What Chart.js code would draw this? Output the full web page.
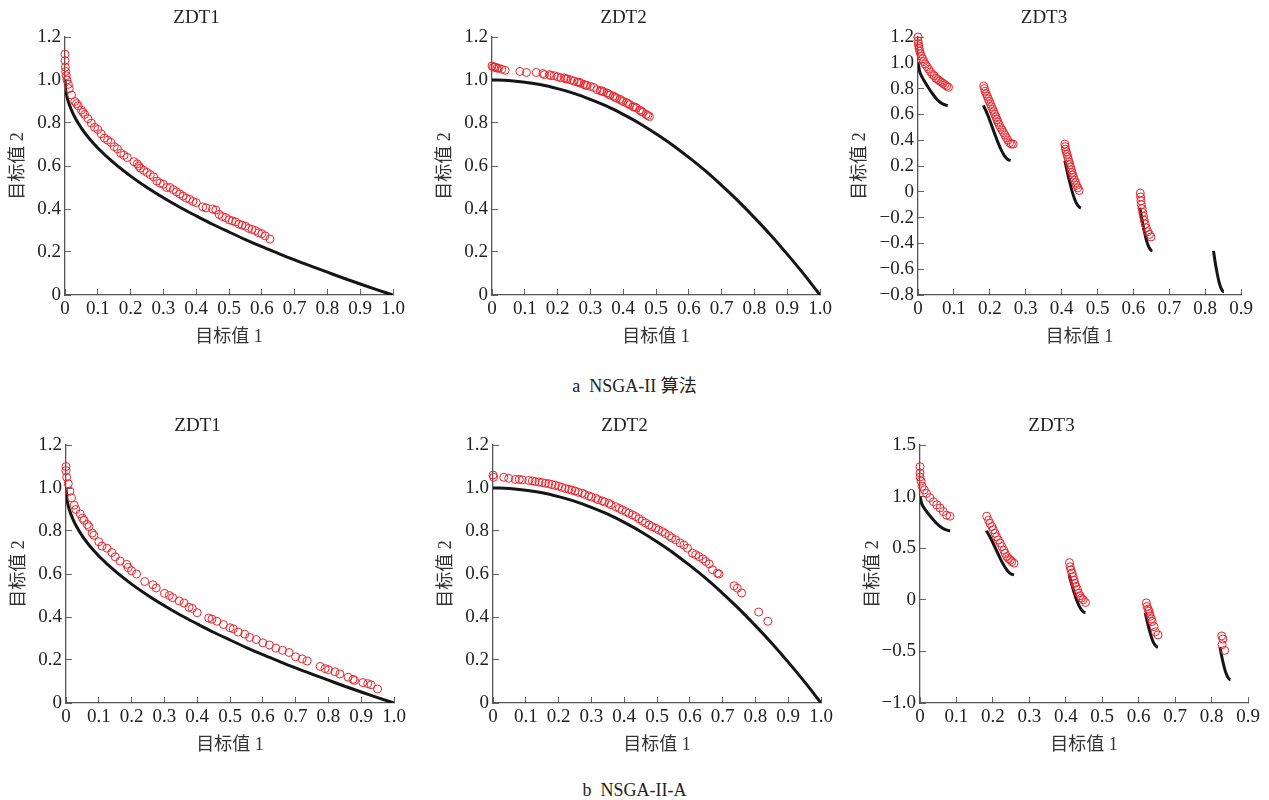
<!DOCTYPE html>
<html>
<head>
<meta charset="utf-8">
<script src="https://cdn.jsdelivr.net/npm/chart.js@4/dist/chart.umd.min.js"></script>
<style>
  body { margin: 0; background: #fff; }
  #page { position: relative; width: 1269px; height: 800px; background: #fff; overflow: hidden; }
  .box { position: absolute; width: 420px; height: 360px; }
  .caption { position: absolute; left: 0; width: 1269px; text-align: center; white-space: pre;
             font-family: 'Liberation Serif', 'Noto Sans CJK SC', serif; font-size: 18px; color: #222; }
</style>
</head>
<body>
<div id="page">
  <div class="box" style="left:0px;top:0px"><canvas id="c1" width="420" height="360"></canvas></div>
  <div class="box" style="left:427px;top:0px"><canvas id="c2" width="420" height="360"></canvas></div>
  <div class="box" style="left:842px;top:0px"><canvas id="c3" width="420" height="360"></canvas></div>
  <div class="box" style="left:1px;top:408px"><canvas id="c4" width="420" height="360"></canvas></div>
  <div class="box" style="left:428px;top:408px"><canvas id="c5" width="420" height="360"></canvas></div>
  <div class="box" style="left:855px;top:408px"><canvas id="c6" width="420" height="360"></canvas></div>
  <div class="caption" style="top:371px">a  NSGA-II 算法</div>
  <div class="caption" style="top:780px">b  NSGA-II-A</div>
</div>
<script>
// tick values
const xTicks10 = [0, 0.1, 0.2, 0.3, 0.4, 0.5, 0.6, 0.7, 0.8, 0.9, 1.0];
const xTicks09 = [0, 0.1, 0.2, 0.3, 0.4, 0.5, 0.6, 0.7, 0.8, 0.9];
const yTicks12 = [0, 0.2, 0.4, 0.6, 0.8, 1.0, 1.2];
const yTicksZdt3a = [-0.8, -0.6, -0.4, -0.2, 0, 0.2, 0.4, 0.6, 0.8, 1.0, 1.2];
const yTicksZdt3b = [-1.0, -0.5, 0, 0.5, 1.0, 1.5];

// true Pareto fronts
const zdt1Front = [[0,1.0],[0.002,0.955],[0.005,0.929],[0.01,0.9],[0.02,0.859],[0.03,0.827],[0.05,0.776],[0.07,0.735],[0.1,0.684],[0.15,0.613],[0.2,0.553],[0.25,0.5],[0.3,0.452],[0.35,0.408],[0.4,0.368],[0.45,0.329],[0.5,0.293],[0.55,0.258],[0.6,0.225],[0.65,0.194],[0.7,0.163],[0.75,0.134],[0.8,0.106],[0.85,0.078],[0.9,0.051],[0.95,0.025],[1.0,0]];
const zdt2Front = [[0,1],[0.05,0.998],[0.1,0.99],[0.15,0.978],[0.2,0.96],[0.25,0.938],[0.3,0.91],[0.35,0.878],[0.4,0.84],[0.45,0.798],[0.5,0.75],[0.55,0.698],[0.6,0.64],[0.65,0.578],[0.7,0.51],[0.75,0.438],[0.8,0.36],[0.85,0.278],[0.9,0.19],[0.95,0.098],[1,0]];
const zdt3Front = [
  [[0,1],[0.005,0.929],[0.01,0.897],[0.02,0.847],[0.03,0.803],[0.04,0.762],[0.05,0.726],[0.06,0.698],[0.07,0.679],[0.08,0.67],[0.083,0.669]],
  [[0.182,0.67],[0.19,0.623],[0.2,0.553],[0.21,0.477],[0.22,0.402],[0.23,0.334],[0.24,0.282],[0.25,0.25],[0.258,0.242]],
  [[0.409,0.242],[0.42,0.105],[0.43,-0.004],[0.44,-0.082],[0.45,-0.121],[0.454,-0.124]],
  [[0.618,-0.124],[0.625,-0.233],[0.63,-0.303],[0.64,-0.409],[0.65,-0.456],[0.653,-0.458]],
  [[0.823,-0.458],[0.83,-0.583],[0.84,-0.715],[0.85,-0.772],[0.852,-0.773]]
];

// a: NSGA-II solutions
const nsgaZdt1 = [[0,1.12],[0,1.09],[0.001,1.06],[0.002,1.04],[0.004,1.02],[0.006,1.0],[0.01,0.98],[0.013,0.96],[0.02,0.93],[0.03,0.9],[0.035,0.89],[0.04,0.88],[0.05,0.86],[0.055,0.85],[0.06,0.84],[0.07,0.82],[0.08,0.8],[0.09,0.78],[0.1,0.77],[0.11,0.75],[0.12,0.73],[0.13,0.72],[0.14,0.71],[0.15,0.69],[0.16,0.68],[0.17,0.66],[0.18,0.65],[0.19,0.64],[0.21,0.62],[0.22,0.61],[0.225,0.6],[0.23,0.59],[0.24,0.58],[0.25,0.57],[0.26,0.56],[0.27,0.55],[0.28,0.53],[0.29,0.52],[0.3,0.515],[0.31,0.5],[0.32,0.5],[0.33,0.49],[0.34,0.48],[0.35,0.47],[0.36,0.46],[0.37,0.45],[0.38,0.445],[0.39,0.435],[0.4,0.43],[0.42,0.41],[0.43,0.405],[0.45,0.4],[0.46,0.395],[0.47,0.375],[0.48,0.365],[0.49,0.36],[0.5,0.35],[0.51,0.345],[0.52,0.34],[0.53,0.33],[0.54,0.325],[0.55,0.32],[0.56,0.31],[0.57,0.305],[0.58,0.3],[0.59,0.29],[0.6,0.285],[0.61,0.275],[0.625,0.26]];
const nsgaZdt2 = [[0,1.065],[0.005,1.06],[0.01,1.06],[0.015,1.055],[0.02,1.055],[0.03,1.05],[0.04,1.045],[0.085,1.04],[0.105,1.035],[0.135,1.035],[0.155,1.03],[0.16,1.025],[0.175,1.025],[0.18,1.02],[0.19,1.02],[0.2,1.015],[0.21,1.01],[0.22,1.01],[0.225,1.005],[0.23,1.005],[0.24,1.0],[0.25,0.995],[0.26,0.99],[0.265,0.99],[0.27,0.985],[0.28,0.98],[0.285,0.975],[0.29,0.975],[0.3,0.97],[0.31,0.965],[0.32,0.955],[0.33,0.95],[0.335,0.95],[0.34,0.945],[0.35,0.94],[0.355,0.935],[0.36,0.93],[0.37,0.925],[0.375,0.92],[0.38,0.915],[0.39,0.91],[0.395,0.905],[0.4,0.9],[0.41,0.895],[0.415,0.89],[0.42,0.885],[0.43,0.875],[0.435,0.875],[0.44,0.87],[0.45,0.86],[0.455,0.855],[0.46,0.85],[0.47,0.84],[0.475,0.835],[0.48,0.83]];
const nsgaZdt3 = [
  [0,1.2],[0,1.17],[0.001,1.15],[0.002,1.13],[0.003,1.11],[0.005,1.09],[0.007,1.07],[0.01,1.05],[0.013,1.03],[0.016,1.01],[0.02,0.99],[0.025,0.97],[0.03,0.95],[0.035,0.93],[0.04,0.91],[0.045,0.9],[0.05,0.88],[0.055,0.87],[0.06,0.86],[0.065,0.85],[0.07,0.84],[0.075,0.83],[0.08,0.82],[0.085,0.81],
  [0.183,0.82],[0.185,0.8],[0.187,0.78],[0.19,0.76],[0.193,0.74],[0.196,0.72],[0.199,0.7],[0.202,0.68],[0.205,0.66],[0.208,0.64],[0.211,0.62],[0.214,0.6],[0.217,0.58],[0.22,0.56],[0.223,0.54],[0.226,0.52],[0.23,0.5],[0.234,0.48],[0.238,0.46],[0.242,0.44],[0.246,0.42],[0.25,0.4],[0.255,0.38],[0.26,0.37],[0.265,0.37],
  [0.409,0.37],[0.41,0.35],[0.411,0.33],[0.413,0.31],[0.415,0.29],[0.417,0.27],[0.419,0.25],[0.421,0.23],[0.423,0.21],[0.425,0.19],[0.427,0.17],[0.429,0.15],[0.431,0.13],[0.433,0.11],[0.436,0.09],[0.439,0.07],[0.442,0.05],[0.445,0.03],[0.449,0.01],
  [0.619,-0.01],[0.62,-0.04],[0.621,-0.07],[0.622,-0.1],[0.624,-0.13],[0.626,-0.16],[0.628,-0.19],[0.63,-0.22],[0.633,-0.25],[0.636,-0.28],[0.64,-0.31],[0.645,-0.33],[0.649,-0.35]
];

// b: NSGA-II-A solutions
const nsgaAZdt1 = [[0,1.1],[0,1.08],[0.002,1.05],[0.007,1.02],[0.012,0.985],[0.017,0.955],[0.025,0.92],[0.03,0.9],[0.043,0.88],[0.05,0.86],[0.055,0.85],[0.065,0.83],[0.07,0.82],[0.08,0.79],[0.085,0.78],[0.1,0.75],[0.11,0.73],[0.125,0.72],[0.14,0.7],[0.15,0.68],[0.165,0.66],[0.185,0.645],[0.19,0.63],[0.2,0.615],[0.215,0.6],[0.24,0.565],[0.265,0.55],[0.275,0.535],[0.3,0.51],[0.315,0.5],[0.325,0.49],[0.345,0.475],[0.36,0.465],[0.375,0.445],[0.385,0.44],[0.4,0.42],[0.435,0.395],[0.445,0.39],[0.46,0.38],[0.48,0.365],[0.5,0.35],[0.51,0.345],[0.525,0.33],[0.545,0.32],[0.56,0.305],[0.58,0.295],[0.6,0.28],[0.62,0.27],[0.64,0.255],[0.66,0.245],[0.68,0.235],[0.7,0.215],[0.72,0.205],[0.735,0.195],[0.775,0.17],[0.79,0.16],[0.8,0.155],[0.82,0.145],[0.835,0.135],[0.86,0.12],[0.875,0.11],[0.88,0.105],[0.905,0.095],[0.92,0.09],[0.93,0.085],[0.95,0.065]];
const nsgaAZdt2 = [[0,1.06],[0.002,1.05],[0.033,1.05],[0.048,1.045],[0.068,1.04],[0.08,1.04],[0.089,1.038],[0.109,1.035],[0.12,1.033],[0.129,1.03],[0.14,1.028],[0.15,1.025],[0.16,1.022],[0.17,1.02],[0.18,1.016],[0.19,1.013],[0.2,1.008],[0.21,1.003],[0.22,0.998],[0.231,0.994],[0.24,0.99],[0.25,0.986],[0.26,0.98],[0.272,0.976],[0.28,0.97],[0.292,0.963],[0.3,0.958],[0.313,0.952],[0.32,0.946],[0.333,0.94],[0.34,0.935],[0.353,0.929],[0.36,0.922],[0.374,0.913],[0.385,0.905],[0.394,0.898],[0.405,0.89],[0.414,0.883],[0.425,0.875],[0.435,0.867],[0.445,0.857],[0.455,0.847],[0.465,0.838],[0.476,0.828],[0.485,0.82],[0.496,0.813],[0.505,0.805],[0.516,0.797],[0.525,0.788],[0.537,0.777],[0.545,0.768],[0.557,0.759],[0.57,0.745],[0.582,0.735],[0.593,0.72],[0.608,0.697],[0.618,0.69],[0.628,0.681],[0.64,0.67],[0.649,0.658],[0.659,0.647],[0.669,0.62],[0.684,0.604],[0.689,0.6],[0.735,0.545],[0.745,0.534],[0.758,0.512],[0.81,0.423],[0.838,0.38]];
const nsgaAZdt3 = [
  [0,1.29],[0,1.23],[0,1.19],[0.003,1.15],[0.006,1.1],[0.012,1.065],[0.018,1.03],[0.027,0.99],[0.037,0.95],[0.046,0.92],[0.055,0.89],[0.064,0.855],[0.073,0.82],[0.082,0.81],
  [0.183,0.81],[0.188,0.77],[0.192,0.74],[0.197,0.71],[0.201,0.68],[0.206,0.645],[0.21,0.61],[0.215,0.58],[0.22,0.55],[0.225,0.516],[0.23,0.48],[0.234,0.45],[0.238,0.42],[0.243,0.4],[0.248,0.385],[0.252,0.37],[0.258,0.355],
  [0.41,0.36],[0.412,0.32],[0.414,0.29],[0.417,0.26],[0.42,0.225],[0.423,0.19],[0.425,0.16],[0.428,0.13],[0.432,0.1],[0.435,0.065],[0.439,0.04],[0.443,0.016],[0.448,0],[0.454,-0.026],
  [0.621,-0.03],[0.623,-0.065],[0.626,-0.09],[0.628,-0.11],[0.63,-0.135],[0.632,-0.16],[0.635,-0.185],[0.637,-0.21],[0.642,-0.26],[0.646,-0.31],[0.653,-0.34],
  [0.828,-0.35],[0.831,-0.38],[0.829,-0.435],[0.836,-0.49]
];

const serif = "'Liberation Serif', 'Times New Roman', serif";
const labelFont = "'Liberation Serif', 'Noto Sans CJK SC', serif";
const toXY = arr => arr.map(p => ({ x: p[0], y: p[1] }));
const fmt = v => Math.abs(v) < 1e-9 ? '0' : v.toFixed(1).replace('-', '\u2212');

function makeChart(id, title, scatter, fronts, xTicks, yTicks, yWidth) {
  const datasets = [{
    type: 'scatter',
    data: toXY(scatter),
    pointStyle: 'circle',
    pointRadius: 4,
    pointBorderWidth: 1,
    pointBorderColor: '#e8242c',
    pointBackgroundColor: 'rgba(0,0,0,0)',
    clip: false
  }];
  fronts.forEach(f => datasets.push({
    type: 'line',
    data: toXY(f),
    borderColor: '#151515',
    borderWidth: 3,
    pointRadius: 0,
    fill: false,
    cubicInterpolationMode: 'monotone'
  }));

  new Chart(document.getElementById(id), {
    type: 'scatter',
    data: { datasets: datasets },
    options: {
      responsive: false,
      animation: false,
      events: [],
      layout: { padding: { left: 0, right: 420 - yWidth - 328, top: 0, bottom: 0 } },
      plugins: {
        legend: { display: false },
        tooltip: { enabled: false },
        title: {
          display: true,
          text: title,
          color: '#222',
          font: { family: serif, size: 19, weight: 'normal', lineHeight: 1.2 },
          padding: { top: 7, bottom: 7.2 }
        }
      },
      scales: {
        x: {
          type: 'linear',
          position: 'bottom',
          min: xTicks[0],
          max: xTicks[xTicks.length - 1],
          afterBuildTicks: s => { s.ticks = xTicks.map(v => ({ value: v })); },
          afterFit: s => { s.height = 65; },
          ticks: { callback: fmt, color: '#222', padding: 9, maxRotation: 0, autoSkip: false,
                   font: { family: serif, size: 19, lineHeight: 1.2 } },
          grid: { drawOnChartArea: false, drawTicks: true, tickLength: -6, color: '#666', lineWidth: 1 },
          border: { display: true, color: '#555', width: 1.3 },
          title: { display: true, text: '目标值 1', color: '#333', padding: { top: 0, bottom: 12 },
                   font: { family: labelFont, size: 18, lineHeight: 1.2 } }
        },
        y: {
          type: 'linear',
          position: 'left',
          min: yTicks[0],
          max: yTicks[yTicks.length - 1],
          afterBuildTicks: s => { s.ticks = yTicks.map(v => ({ value: v })); },
          afterFit: s => { s.width = yWidth; },
          ticks: { callback: fmt, color: '#222', padding: 10, autoSkip: false,
                   font: { family: serif, size: 19, lineHeight: 1.2 } },
          grid: { drawOnChartArea: false, drawTicks: true, tickLength: -6, color: '#666', lineWidth: 1 },
          border: { display: true, color: '#555', width: 1.3 },
          title: { display: true, text: '目标值 2', color: '#333', padding: { top: 7, bottom: 0 },
                   font: { family: labelFont, size: 18, lineHeight: 1.2 } }
        }
      }
    }
  });
}

makeChart('c1', 'ZDT1', nsgaZdt1, [zdt1Front], xTicks10, yTicks12, 65);
makeChart('c2', 'ZDT2', nsgaZdt2, [zdt2Front], xTicks10, yTicks12, 65);
makeChart('c3', 'ZDT3', nsgaZdt3, zdt3Front, xTicks09, yTicksZdt3a, 76);
makeChart('c4', 'ZDT1', nsgaAZdt1, [zdt1Front], xTicks10, yTicks12, 65);
makeChart('c5', 'ZDT2', nsgaAZdt2, [zdt2Front], xTicks10, yTicks12, 65);
makeChart('c6', 'ZDT3', nsgaAZdt3, zdt3Front, xTicks09, yTicksZdt3b, 65);
</script>
</body>
</html>
